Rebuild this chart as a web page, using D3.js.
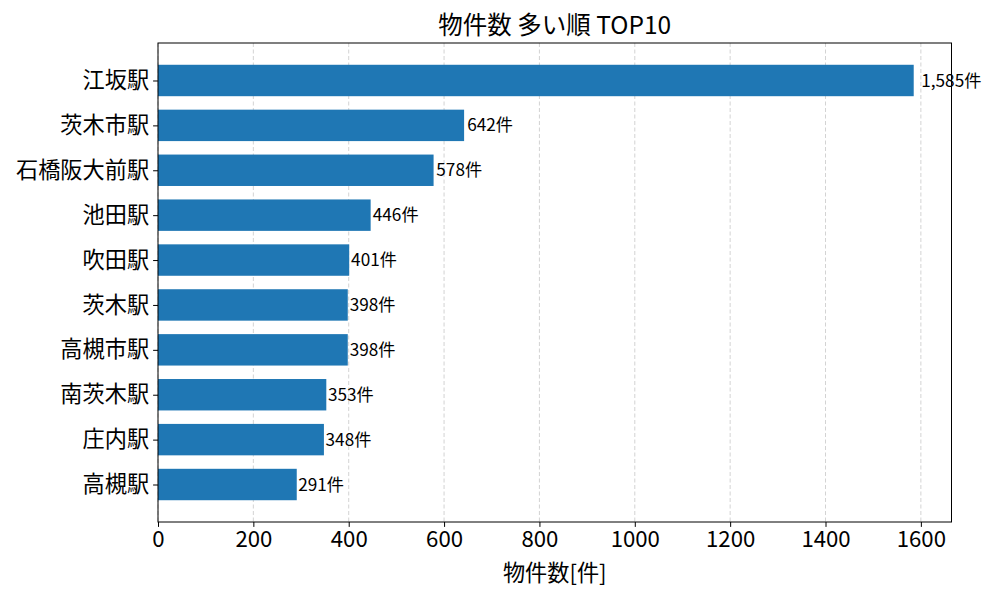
<!DOCTYPE html>
<html><head><meta charset="utf-8">
<script src="https://cdn.jsdelivr.net/npm/d3@7"></script>
<style>body{margin:0;background:#fff}svg{display:block}text{font-family:"Noto Sans CJK JP","Noto Sans",sans-serif}</style>
</head><body>
<svg id="c" width="1000" height="600"></svg>
<script>
const stations = ["江坂駅","茨木市駅","石橋阪大前駅","池田駅","吹田駅","茨木駅","高槻市駅","南茨木駅","庄内駅","高槻駅"];
const counts = [1585,642,578,446,401,398,398,353,348,291];
const xTicks = [0,200,400,600,800,1000,1200,1400,1600];
const title = "物件数 多い順 TOP10";
const xLabel = "物件数[件]";

const svg = d3.select("#c");
const L=158, R=951.5, T=43, B=522;
const x = d3.scaleLinear().domain([0, d3.max(counts)*1.05]).range([L,R]);
const y = d3.scaleLinear().domain([-0.835, 9.835]).range([T,B]);
const bh = y(0.7)-y(0);

// grid
svg.append("g").selectAll("line").data(xTicks).join("line")
  .attr("x1",d=>x(d)).attr("x2",d=>x(d)).attr("y1",T).attr("y2",B)
  .attr("stroke","#b0b0b0").attr("stroke-opacity",0.7).attr("stroke-width",0.8).attr("stroke-dasharray","4,2.5");

// bars
svg.append("g").selectAll("rect").data(counts).join("rect")
  .attr("x",x(0)).attr("y",(d,i)=>y(i)-bh/2).attr("width",d=>x(d)-x(0)).attr("height",bh)
  .attr("fill","#1f77b4");

// labels
svg.append("g").selectAll("text").data(counts).join("text")
  .attr("x",d=>x(d*1.01)).attr("y",(d,i)=>y(i)).attr("dy","0.35em")
  .attr("font-size","17.2px").attr("fill","#000")
  .text(d=>d3.format(",")(d)+"件");

// frame (drawn over labels)
svg.append("rect").attr("x",L).attr("y",T).attr("width",R-L).attr("height",B-T)
  .attr("fill","none").attr("stroke","#000").attr("stroke-width",1);

// x axis
const xa = svg.append("g").attr("transform",`translate(0,${B})`)
  .call(d3.axisBottom(x).tickValues(xTicks).tickFormat(d3.format("d")).tickSize(4.9).tickPadding(4));
xa.select(".domain").remove();
xa.selectAll("text").attr("font-size","22.2px").attr("fill","#000").attr("font-family",'"Noto Sans CJK JP","Noto Sans",sans-serif');
xa.selectAll("line").attr("stroke","#000");

// y axis
const ya = svg.append("g").attr("transform",`translate(${L},0)`)
  .call(d3.axisLeft(y).tickValues(d3.range(stations.length)).tickFormat(i=>stations[i]).tickSize(4.9).tickPadding(4));
ya.select(".domain").remove();
ya.selectAll("text").attr("font-size","22.2px").attr("fill","#000").attr("font-family",'"Noto Sans CJK JP","Noto Sans",sans-serif');
ya.selectAll("line").attr("stroke","#000");

svg.append("text").attr("x",(L+R)/2).attr("y",34).attr("text-anchor","middle")
  .attr("font-size","24.5px").text(title);
svg.append("text").attr("x",(L+R)/2).attr("y",581).attr("text-anchor","middle")
  .attr("font-size","22.2px").text(xLabel);
</script>
</body></html>
